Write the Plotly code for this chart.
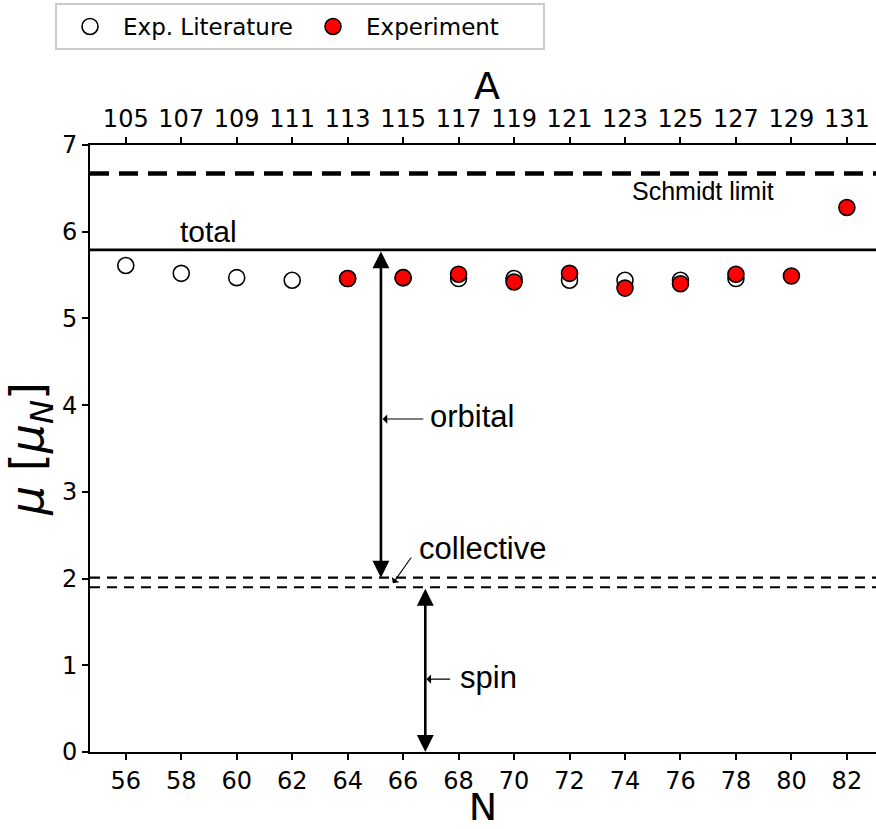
import plotly.graph_objects as go

# Neutron number on the bottom axis, mass number A on the top axis
N_ticks = [56, 58, 60, 62, 64, 66, 68, 70, 72, 74, 76, 78, 80, 82]
A_ticks = [105, 107, 109, 111, 113, 115, 117, 119, 121, 123, 125, 127, 129, 131]

# Literature magnetic moments (open circles)
lit_N = [56, 58, 60, 62, 64, 66, 68, 70, 72, 74, 76, 78]
lit_mu = [5.61, 5.52, 5.47, 5.44, 5.46, 5.47, 5.46, 5.46, 5.44, 5.44, 5.44, 5.46]

# New measurements (red circles)
exp_N = [64, 66, 68, 70, 72, 74, 76, 78, 80, 82]
exp_mu = [5.46, 5.47, 5.51, 5.42, 5.52, 5.35, 5.40, 5.51, 5.49, 6.28]

# Reference levels
schmidt_mu = 6.67
total_mu = 5.79
collective_hi = 2.01
collective_lo = 1.90

# Positions of the decomposition arrows (in N units)
orbital_N = 65.2
spin_N = 66.8

x_range = [54.71, 83.05]

fig = go.Figure()

fig.add_trace(go.Scatter(
    x=lit_N, y=lit_mu, mode="markers", name="Exp. Literature",
    marker=dict(size=16, color="white", line=dict(color="black", width=1.6)),
))
fig.add_trace(go.Scatter(
    x=exp_N, y=exp_mu, mode="markers", name="Experiment",
    marker=dict(size=16, color="#ff0000", line=dict(color="black", width=1.6)),
))
# carrier trace for the top (A) axis
fig.add_trace(go.Scatter(
    x=N_ticks, y=[None] * len(N_ticks), xaxis="x2", mode="markers",
    showlegend=False, hoverinfo="skip",
))

# Horizontal reference lines
fig.add_shape(type="line", xref="x", yref="y", x0=x_range[0], x1=x_range[1],
              y0=schmidt_mu, y1=schmidt_mu,
              line=dict(color="black", width=4.5, dash="19px,10px"))
fig.add_shape(type="line", xref="x", yref="y", x0=x_range[0], x1=x_range[1],
              y0=total_mu, y1=total_mu, line=dict(color="black", width=2.6))
for lvl in (collective_hi, collective_lo):
    fig.add_shape(type="line", xref="x", yref="y", x0=x_range[0], x1=x_range[1],
                  y0=lvl, y1=lvl, line=dict(color="black", width=2.2, dash="10px,7px"))

# Double-headed arrows: orbital and spin contributions
big_arrow = dict(text="", showarrow=True, xref="x", yref="y", axref="x", ayref="y",
                 arrowhead=2, arrowside="end+start", arrowwidth=2.6, arrowsize=1.3,
                 arrowcolor="black", standoff=0, startstandoff=0)
fig.add_annotation(x=orbital_N, y=collective_hi, ax=orbital_N, ay=total_mu, **big_arrow)
fig.add_annotation(x=spin_N, y=0, ax=spin_N, ay=collective_lo, **big_arrow)

# Small pointer arrows from the labels
small_arrow = dict(text="", showarrow=True, xref="x", yref="y", axref="x", ayref="y",
                   arrowhead=1, arrowwidth=1.1, arrowsize=1.4, arrowcolor="black",
                   standoff=0, startstandoff=0)
fig.add_annotation(x=65.26, y=3.84, ax=66.78, ay=3.84, **small_arrow)
fig.add_annotation(x=66.84, y=0.84, ax=67.75, ay=0.84, **small_arrow)
fig.add_annotation(x=65.63, y=1.945, ax=66.33, ay=2.26, **small_arrow)

# Text labels
lab_font = dict(family="Liberation Sans, Arial, sans-serif", size=31, color="black")
labels = [
    ("total", 57.87, 6.0, dict(lab_font, size=30)),
    ("orbital", 66.88, 3.87, lab_font),
    ("collective", 66.49, 2.35, lab_font),
    ("spin", 67.97, 0.86, lab_font),
    ("Schmidt limit", 74.17, 6.47, dict(lab_font, size=25)),
]
for txt, lx, ly, f in labels:
    fig.add_annotation(text=txt, x=lx, y=ly, xref="x", yref="y", showarrow=False,
                       xanchor="left", yanchor="middle", font=f)

tick_font = dict(family="DejaVu Sans", size=24, color="black")
title_font = dict(family="DejaVu Sans", size=38, color="black")

# Title of the top axis
fig.add_annotation(text="A", xref="paper", yref="paper", x=0.505, y=1.097,
                   showarrow=False, xanchor="center", yanchor="middle", font=title_font)

fig.update_layout(
    width=876, height=829,
    margin=dict(l=90, r=0, t=145, b=77),
    paper_bgcolor="white", plot_bgcolor="white",
    showlegend=True,
    legend=dict(
        orientation="h", xref="container", yref="container",
        x=55 / 876, y=1 - 3 / 829, xanchor="left", yanchor="top",
        bgcolor="white", bordercolor="#cccccc", borderwidth=2,
        font=dict(family="DejaVu Sans", size=23, color="black"),
        entrywidth=172, itemwidth=56, itemsizing="trace",
    ),
    xaxis=dict(
        range=x_range, tickvals=N_ticks, ticktext=[str(n) for n in N_ticks],
        showline=True, linecolor="black", linewidth=2, mirror=False,
        ticks="outside", ticklen=6, tickwidth=1.5, tickcolor="black",
        tickfont=tick_font, showgrid=False, zeroline=False,
        title=dict(text="N", font=title_font, standoff=6),
    ),
    xaxis2=dict(
        overlaying="x", side="top", matches="x",
        tickvals=N_ticks, ticktext=[str(a) for a in A_ticks],
        showline=True, linecolor="black", linewidth=2,
        ticks="outside", ticklen=6, tickwidth=1.5, tickcolor="black",
        tickfont=tick_font, showgrid=False, zeroline=False,
    ),
    yaxis=dict(
        range=[0, 7], tickvals=[0, 1, 2, 3, 4, 5, 6, 7],
        showline=True, linecolor="black", linewidth=2,
        ticks="outside", ticklen=6, tickwidth=1.5, tickcolor="black",
        tickfont=tick_font, showgrid=False, zeroline=False,
        title=dict(text="<i>μ</i> [<i>μ</i><sub><i>N</i></sub>]",
                   font=dict(title_font, size=46), standoff=6),
    ),
)

fig.write_html("out.html")
